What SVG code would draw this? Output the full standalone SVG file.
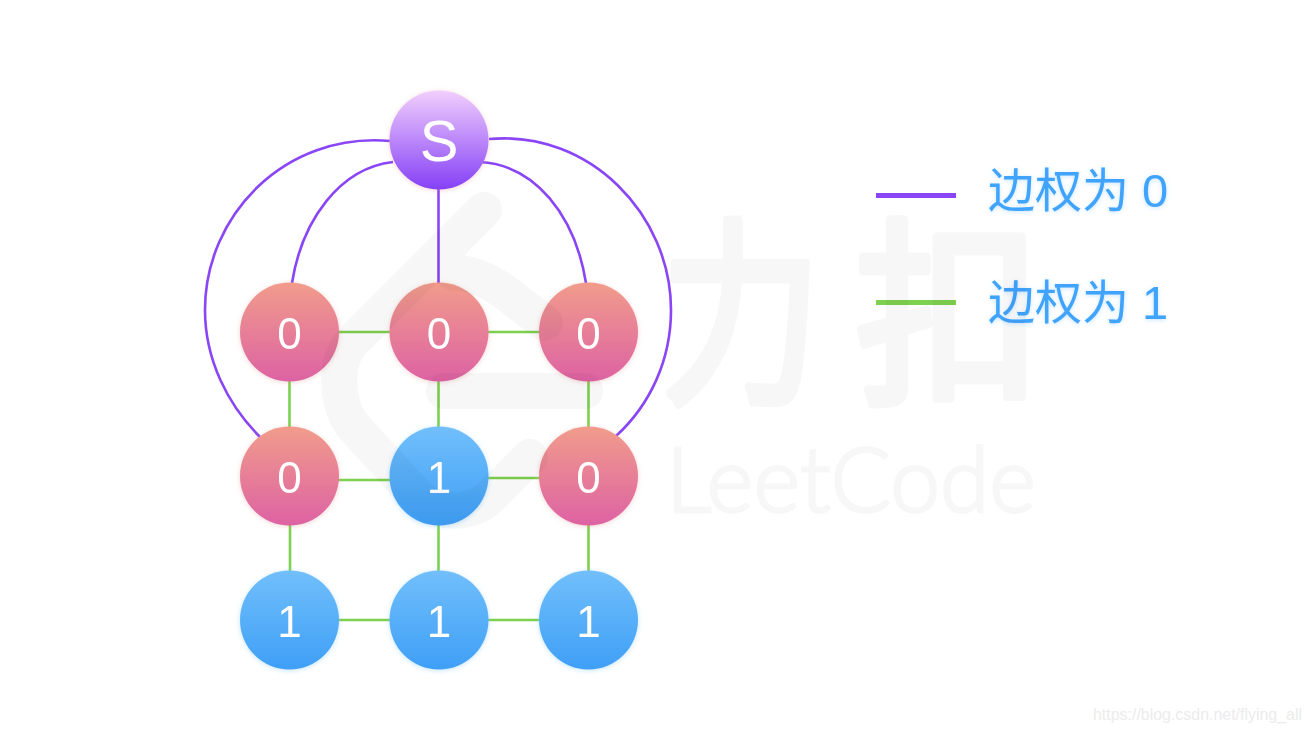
<svg xmlns="http://www.w3.org/2000/svg" width="1310" height="732" viewBox="0 0 1310 732">
<style>
.e0{fill:none;stroke:#8a45f6;stroke-width:2.6}
.e1{fill:none;stroke:#7ed04f;stroke-width:2.6}
.n{font-family:"Liberation Sans",Arial,sans-serif;font-size:44px;fill:#fff;text-anchor:middle}
.l{font-family:"Liberation Sans","Noto Sans CJK SC",sans-serif;font-size:47px;fill:#40a4fe;filter:url(#ts)}
.wm{fill:none;stroke:#000;stroke-width:36;stroke-linecap:round;stroke-linejoin:round}
.wt{font-family:"Noto Sans CJK SC",sans-serif;font-size:200px;stroke:#000;stroke-width:9;stroke-linejoin:round}
</style>
<defs>
<linearGradient id="gs" x1="0" y1="0" x2="0" y2="1"><stop offset="0" stop-color="#f1cffd"/><stop offset="1" stop-color="#8540f6"/></linearGradient>
<linearGradient id="gp" x1="0" y1="0" x2="0" y2="1"><stop offset="0" stop-color="#f19c8b"/><stop offset="1" stop-color="#dd62a3"/></linearGradient>
<linearGradient id="gb" x1="0" y1="0" x2="0" y2="1"><stop offset="0" stop-color="#71bffb"/><stop offset="1" stop-color="#3f9ff6"/></linearGradient>
<filter id="sh" x="-20%" y="-20%" width="140%" height="140%"><feDropShadow dx="0" dy="1" stdDeviation="2.500" flood-color="#d88" flood-opacity=".35"/></filter>
<filter id="shb" x="-20%" y="-20%" width="140%" height="140%"><feDropShadow dx="0" dy="1" stdDeviation="2.500" flood-color="#7cc4fb" flood-opacity=".45"/></filter>
<filter id="ts" x="-10%" y="-20%" width="120%" height="140%"><feDropShadow dx="0" dy="1" stdDeviation="2" flood-color="#40a4fe" flood-opacity=".3"/></filter>
</defs>
<rect width="1310" height="732" fill="#fff"/>
<g id="connectors">
<path class="e0" d="M390 141C285 132 205 215 205 310C205 360 228 405 260 437"/>
<path class="e0" d="M489 139C590 130 671 215 671 310C671 360 650 405 616 436"/>
<path class="e0" d="M393 162C340 168 302 220 292 283"/>
<path class="e0" d="M480 162C535 165 575 215 586 283"/>
<path class="e0" d="M438.500 188V284"/>
<path class="e1" d="M338 332H391M487 332H540M338 480H391M487 478H540M338 620H391M487 620H540"/>
<path class="e1" d="M289.500 380V428M438.500 380V428M588.500 380V428M290 524V572M438.500 524V572M588.500 524V572"/>
</g>
<g id="node-s" filter="url(#sh)"><circle cx="439" cy="140" r="49.500" fill="url(#gs)"/><text class="n" x="439" y="161" style="font-size:58px">S</text></g>
<g id="node-a1" filter="url(#sh)"><circle cx="289.500" cy="332" r="49.500" fill="url(#gp)"/><text class="n" x="289.500" y="348.500">0</text></g>
<g id="node-a2" filter="url(#sh)"><circle cx="439" cy="332" r="49.500" fill="url(#gp)"/><text class="n" x="439" y="348.500">0</text></g>
<g id="node-a3" filter="url(#sh)"><circle cx="588.500" cy="332" r="49.500" fill="url(#gp)"/><text class="n" x="588.500" y="348.500">0</text></g>
<g id="node-b1" filter="url(#sh)"><circle cx="289.500" cy="476" r="49.500" fill="url(#gp)"/><text class="n" x="289.500" y="492.500">0</text></g>
<g id="node-b2" filter="url(#shb)"><circle cx="439" cy="476" r="49.500" fill="url(#gb)"/><text class="n" x="439" y="492.500">1</text></g>
<g id="node-b3" filter="url(#sh)"><circle cx="588.500" cy="476" r="49.500" fill="url(#gp)"/><text class="n" x="588.500" y="492.500">0</text></g>
<g id="node-c1" filter="url(#shb)"><circle cx="289.500" cy="620" r="49.500" fill="url(#gb)"/><text class="n" x="289.500" y="636.500">1</text></g>
<g id="node-c2" filter="url(#shb)"><circle cx="439" cy="620" r="49.500" fill="url(#gb)"/><text class="n" x="439" y="636.500">1</text></g>
<g id="node-c3" filter="url(#shb)"><circle cx="588.500" cy="620" r="49.500" fill="url(#gb)"/><text class="n" x="588.500" y="636.500">1</text></g>
<g id="legend">
<rect x="876" y="193" width="80" height="5" fill="#8a45f6"/>
<rect x="876" y="300" width="80" height="5" fill="#7ed04f"/>
<text class="l" x="988" y="207">边权为 0</text>
<text class="l" x="988" y="319">边权为 1</text>
</g>
<g id="watermark" opacity=".035">
<path class="wm" d="M484 210L352 342C335 360 335 400 352 425L418 497C440 515 470 515 490 497L530 457"/>
<path class="wm" d="M452 272C480 274 495 285 510 296L545 323"/>
<path class="wm" d="M444 391H585"/>
<text class="wt" transform="translate(661 388) scale(.8 1)">力</text>
<text class="wt" transform="translate(855 388) scale(.93 1)">扣</text>
<text x="666" y="512" font-family="Lato,'Noto Sans',sans-serif" font-weight="300" font-size="90" stroke="#000" stroke-width="3" textLength="370" lengthAdjust="spacingAndGlyphs">LeetCode</text>
</g>
<text id="credit" x="1093" y="720" font-family="'Liberation Sans',Arial,sans-serif" font-size="16" textLength="209" lengthAdjust="spacingAndGlyphs" fill="#ececec">https://blog.csdn.net/flying_all</text>
</svg>
